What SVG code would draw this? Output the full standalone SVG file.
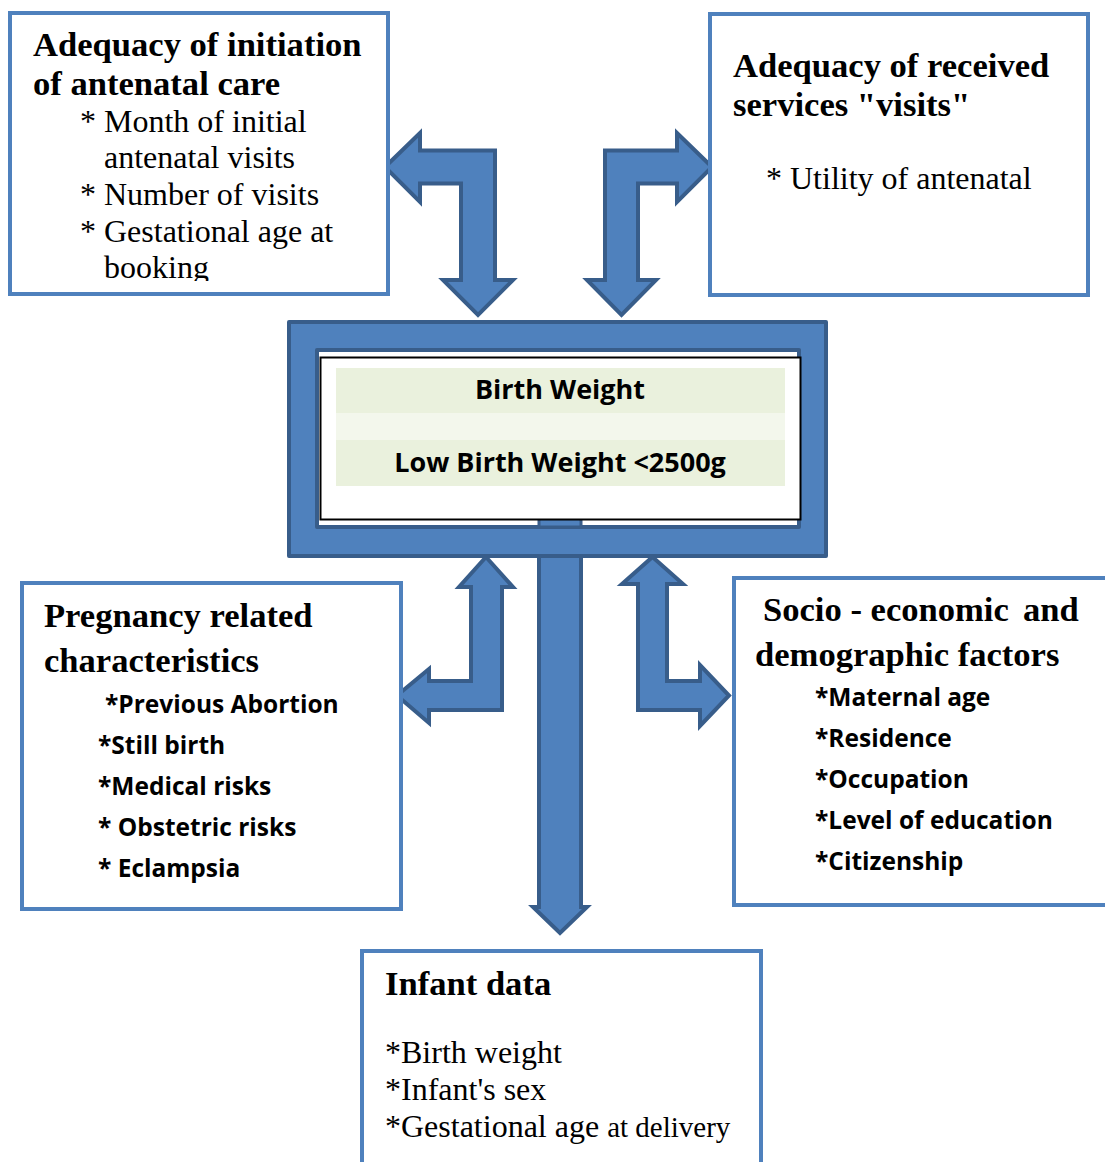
<svg xmlns="http://www.w3.org/2000/svg" width="1105" height="1162" viewBox="0 0 1105 1162">
<defs>
<style>
.box{fill:#fff;stroke:#4F81BD;stroke-width:4}
.arrow{fill:#4F81BD;stroke:#385D8A;stroke-width:4;stroke-linejoin:miter}
.tb{font-family:"Liberation Serif","Times New Roman",serif;font-weight:bold;font-size:34.6px;fill:#000}
.tr{font-family:"Liberation Serif","Times New Roman",serif;font-size:32px;fill:#000}
.sb{font-family:"Open Sans","Noto Sans",sans-serif;font-weight:bold;font-size:24.5px;fill:#000}
.cb{font-family:"Open Sans","Noto Sans",sans-serif;font-weight:bold;font-size:27px;fill:#000}
</style>
<clipPath id="clipTL"><rect x="10" y="14" width="377" height="267"/></clipPath>
</defs>
<rect width="1105" height="1162" fill="#fff"/>

<g id="connectors">
<polygon class="arrow" points="385,167 420,133 420,150.5 495,150.5 495,280 513,280 478,315 443,280 461,280 461,183.5 420,183.5 420,202"/>
<polygon class="arrow" points="712,167 677,133 677,150.5 605,150.5 605,280 587,280 621.5,315 656,280 638,280 638,183.5 677,183.5 677,202"/>
<polygon class="arrow" points="486,557 513,587 502,587 502,710 429,710 429,723 397,695.5 429,669 429,681 471,681 471,587 459,587"/>
<polygon class="arrow" points="652.5,557 683,584 667,584 667,681 700,681 700,665 729,695.5 700,726 700,710 638,710 638,584 622,584"/>
<polygon class="arrow" points="539,518 581,518 581,907 587,907 560,933 533,907 539,907"/>
</g>

<g id="node-center">
<path d="M289,322 H826 V556 H289 Z M317,350 V527 H799 V350 Z" fill="#4F81BD" fill-rule="evenodd" stroke="#385D8A" stroke-width="4" stroke-linejoin="round"/>
<rect x="319" y="352" width="478" height="173" fill="#fff"/>
<rect x="539" y="518" width="42" height="9" fill="#4F81BD" stroke="#385D8A" stroke-width="3"/>
<rect x="320.5" y="357.5" width="480" height="162" fill="#fff" stroke="#000" stroke-width="2"/>
<rect x="336" y="368" width="449" height="45" fill="#EAF1DD"/>
<rect x="336" y="413" width="449" height="27" fill="#F3F7EC"/>
<rect x="336" y="440" width="449" height="46" fill="#EAF1DD"/>
<text class="cb" x="560" y="399" text-anchor="middle">Birth Weight</text>
<text class="cb" x="560" y="472" text-anchor="middle">Low Birth Weight &lt;2500g</text>
</g>

<g id="node-initiation">
<rect class="box" x="10" y="13" width="378" height="281"/>
<g clip-path="url(#clipTL)">
<text class="tb" x="33" y="56">Adequacy of initiation</text>
<text class="tb" x="33" y="95">of antenatal care</text>
<text class="tr" x="80" y="132">* Month of initial</text>
<text class="tr" x="104" y="168">antenatal visits</text>
<text class="tr" x="80" y="205">* Number of visits</text>
<text class="tr" x="80" y="242">* Gestational age at</text>
<text class="tr" x="104" y="278">booking</text>
</g>
</g>

<g id="node-services">
<rect class="box" x="710" y="14" width="378" height="281"/>
<text class="tb" x="733" y="77">Adequacy of received</text>
<text class="tb" x="733" y="116">services "visits"</text>
<text class="tr" x="766" y="189">* Utility of antenatal</text>
</g>

<g id="node-pregnancy">
<rect class="box" x="22" y="583" width="379" height="326"/>
<text class="tb" x="44" y="627">Pregnancy related</text>
<text class="tb" x="44" y="672">characteristics</text>
<text class="sb" x="105" y="713">*Previous Abortion</text>
<text class="sb" x="98" y="754">*Still birth</text>
<text class="sb" x="98" y="795">*Medical risks</text>
<text class="sb" x="98" y="836">* Obstetric risks</text>
<text class="sb" x="98" y="877">* Eclampsia</text>
</g>

<g id="node-socio">
<rect class="box" x="734" y="578" width="380" height="327"/>
<text class="tb" x="763" y="621">Socio - economic</text>
<text class="tb" x="1023" y="621">and</text>
<text class="tb" x="755" y="666">demographic factors</text>
<text class="sb" x="815" y="706">*Maternal age</text>
<text class="sb" x="815" y="747">*Residence</text>
<text class="sb" x="815" y="788">*Occupation</text>
<text class="sb" x="815" y="829">*Level of education</text>
<text class="sb" x="815" y="870">*Citizenship</text>
</g>

<g id="node-infant">
<rect class="box" x="362" y="951" width="399" height="230"/>
<text class="tb" x="385" y="995">Infant data</text>
<text class="tr" x="385" y="1063">*Birth weight</text>
<text class="tr" x="385" y="1100">*Infant's sex</text>
<text class="tr" x="385" y="1137">*Gestational age <tspan font-size="29">at delivery</tspan></text>
</g>
</svg>
